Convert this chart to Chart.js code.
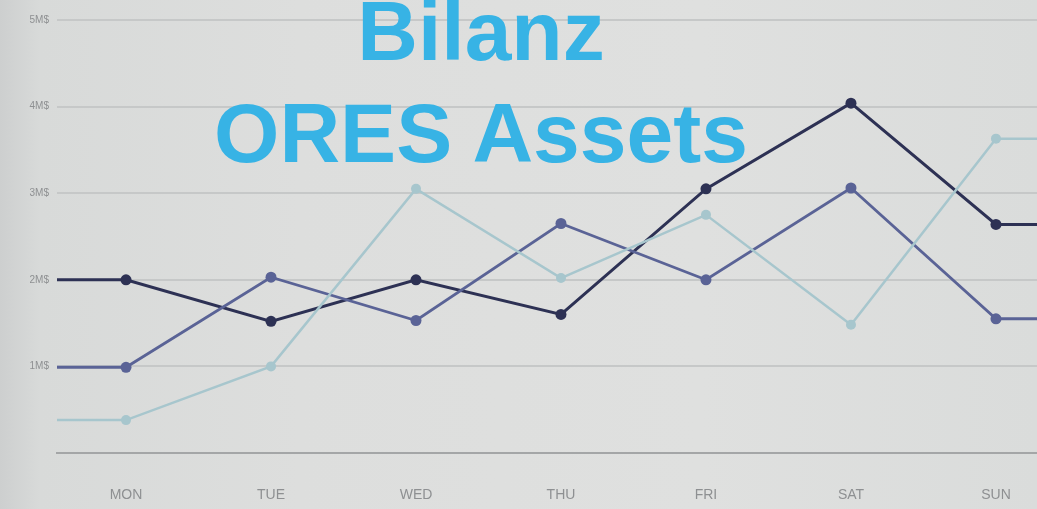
<!DOCTYPE html>
<html>
<head>
<meta charset="utf-8">
<script src="https://cdn.jsdelivr.net/npm/chart.js@4/dist/chart.umd.min.js"></script>
<style>
  html, body { margin: 0; padding: 0; }
  body { width: 1037px; height: 509px; overflow: hidden;
    background: linear-gradient(90deg, #cdcfcf 0px, #d8dad9 40px, #dddedd 300px, #dfe0df 700px, #dadcdb 1037px); }
  #wrap { position: relative; width: 1037px; height: 509px; }
  canvas { position: absolute; left: 0; top: 0; }
  .ttl { position: absolute; left: 481px; transform: translateX(-50%); white-space: nowrap;
    font-family: "Liberation Sans", Arial, sans-serif; font-weight: bold; font-size: 84px;
    line-height: 84px; color: #37b3e5; }
</style>
</head>
<body>
<div id="wrap">
  <canvas id="c" width="1037" height="509"></canvas>
  <div class="ttl" style="top:-11px">Bilanz</div>
  <div class="ttl" style="top:91px">ORES Assets</div>
</div>
<script>
const categories = ['MON', 'TUE', 'WED', 'THU', 'FRI', 'SAT', 'SUN'];
const tickLabels = ['', '1M$', '2M$', '3M$', '4M$', '5M$'];
const seriesDark  = [2.0, 1.52, 2.0, 1.6, 3.05, 4.04, 2.64];
const seriesMid   = [0.99, 2.03, 1.53, 2.65, 2.0, 3.06, 1.55];
const seriesLight = [0.38, 1.0, 3.05, 2.02, 2.75, 1.48, 3.63];

const X_MIN = -0.476, X_MAX = 6.283;

function build(values) {
  const pts = values.map((v, i) => ({ x: i, y: v }));
  // flat continuation of the line to the plot edges
  return [{ x: X_MIN, y: values[0] }, ...pts, { x: X_MAX, y: values[values.length - 1] }];
}
function radii(values, r) {
  return [0, ...values.map(() => r), 0];
}

function ds(values, color, width, r) {
  return {
    data: build(values),
    borderColor: color,
    backgroundColor: color,
    borderWidth: width,
    pointRadius: radii(values, r),
    pointHoverRadius: radii(values, r),
    pointBorderWidth: 0,
    tension: 0,
    clip: false
  };
}

new Chart(document.getElementById('c'), {
  type: 'line',
  data: {
    datasets: [
      ds(seriesLight, '#a7c6cd', 2.5, 5),
      ds(seriesMid, '#5a6396', 2.8, 5.5),
      ds(seriesDark, '#2d3154', 3, 5.5)
    ]
  },
  options: {
    responsive: false,
    animation: false,
    events: [],
    layout: { padding: { top: 20, right: 0, left: 0, bottom: 0 } },
    plugins: { legend: { display: false }, tooltip: { enabled: false } },
    scales: {
      x: {
        type: 'linear',
        min: X_MIN,
        max: X_MAX,
        afterBuildTicks: (s) => { s.ticks = categories.map((_, i) => ({ value: i })); },
        afterFit: (s) => { s.height = 56; s.paddingLeft = 0; s.paddingRight = 0; },
        ticks: {
          autoSkip: false,
          maxRotation: 0,
          padding: 34,
          color: '#8e9092',
          font: { family: 'Liberation Sans', size: 14 },
          callback: (v) => categories[v] ?? ''
        },
        grid: { display: false, drawTicks: false },
        border: { display: true, color: '#a4a6a7', width: 2 }
      },
      y: {
        type: 'linear',
        min: 0,
        max: 5,
        afterBuildTicks: (s) => { s.ticks = tickLabels.map((_, i) => ({ value: i })); },
        afterFit: (s) => { s.width = 57; },
        ticks: {
          padding: 8,
          color: '#8e9092',
          font: { family: 'Liberation Sans', size: 10 },
          callback: (v) => tickLabels[v] ?? ''
        },
        grid: {
          color: (c) => c.tick && c.tick.value === 0 ? 'rgba(0,0,0,0)' : '#c6c8c8',
          lineWidth: 2,
          drawTicks: false
        },
        border: { display: false }
      }
    }
  }
});
</script>
</body>
</html>
